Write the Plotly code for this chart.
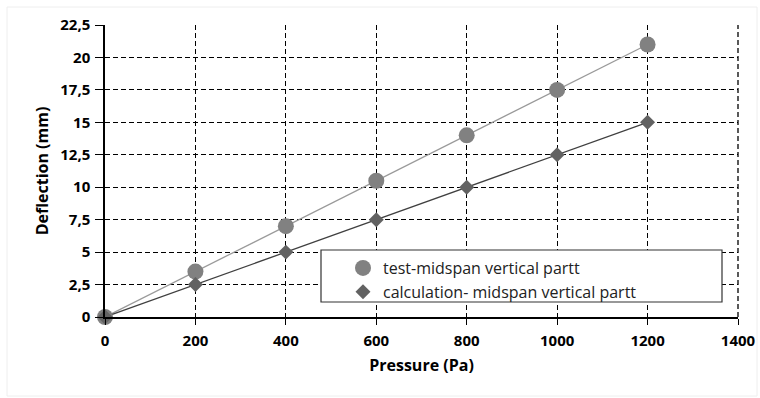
import plotly.graph_objects as go

pressure = [0, 200, 400, 600, 800, 1000, 1200]
test_deflection = [0, 3.5, 7, 10.5, 14, 17.5, 21]
calc_deflection = [0, 2.5, 5, 7.5, 10, 12.5, 15]
y_tick_vals = [0, 2.5, 5, 7.5, 10, 12.5, 15, 17.5, 20, 22.5]
y_tick_text = ["0", "2,5", "5", "7,5", "10", "12,5", "15", "17,5", "20", "22,5"]
x_tick_vals = [0, 200, 400, 600, 800, 1000, 1200, 1400]

FONT = "Open Sans, sans-serif"
fig = go.Figure()
# connecting lines (no legend)
fig.add_trace(go.Scatter(x=pressure, y=test_deflection, mode="lines", showlegend=False,
                         line=dict(color="#9a9a9a", width=1.3), hoverinfo="skip"))
fig.add_trace(go.Scatter(x=pressure, y=calc_deflection, mode="lines", showlegend=False,
                         line=dict(color="#404040", width=1.3), hoverinfo="skip"))
# markers (legend shows markers only)
fig.add_trace(go.Scatter(
    x=pressure, y=test_deflection, mode="markers", cliponaxis=False,
    name="test-midspan vertical partt",
    marker=dict(symbol="circle", size=16, color="#818181"),
))
fig.add_trace(go.Scatter(
    x=pressure, y=calc_deflection, mode="markers", cliponaxis=False,
    name="calculation- midspan vertical partt",
    marker=dict(symbol="diamond", size=11.5, color="#626262"),
))

fig.update_layout(
    width=760, height=398,
    margin=dict(l=105, r=22, t=25, b=81, autoexpand=False),
    paper_bgcolor="white", plot_bgcolor="white",
    font=dict(family=FONT, color="black"),
    showlegend=True,
    legend=dict(
        x=(343 - 105) / 633, y=(317 - 251) / 292, xanchor="left", yanchor="top",
        bgcolor="rgba(0,0,0,0)", borderwidth=0,
        font=dict(size=16, family=FONT, color="#222"),
        itemwidth=30, tracegroupgap=0,
    ),
    xaxis=dict(
        range=[0, 1400], tickvals=x_tick_vals, automargin=False,
        showgrid=True, gridcolor="black", griddash="5px,3px", gridwidth=1.1,
        showline=True, linecolor="black", linewidth=1.5,
        ticks="outside", ticklen=6, tickcolor="black", ticklabelstandoff=3,
        tickfont=dict(size=15, family=FONT, weight="bold"),
        title=dict(text="Pressure (Pa)", font=dict(size=16, weight="bold"), standoff=11),
        zeroline=False,
    ),
    yaxis=dict(
        range=[0, 22.5], tickvals=y_tick_vals, ticktext=y_tick_text, automargin=False,
        showgrid=True, gridcolor="black", griddash="5px,3px", gridwidth=1.1,
        showline=True, linecolor="black", linewidth=1.5,
        ticks="outside", ticklen=8, tickcolor="black", ticklabelstandoff=2,
        tickfont=dict(size=15, family=FONT, weight="bold"),
        title=dict(text="Deflection (mm)", font=dict(size=16, weight="bold"), standoff=8),
        zeroline=False,
    ),
)
# right frame edge (dashed like the grid)
fig.add_shape(type="line", xref="paper", yref="paper", x0=1, x1=1, y0=0, y1=1,
              line=dict(color="black", width=1.3, dash="5px,3px"))
# legend frame
fig.add_shape(type="rect", xref="paper", yref="paper",
              x0=(321 - 105) / 633, x1=(722 - 105) / 633,
              y0=(317 - 302) / 292, y1=(317 - 250) / 292,
              line=dict(color="#333333", width=1.2), fillcolor="white", layer="above")
# faint outer frame
fig.add_shape(type="rect", xref="paper", yref="paper",
              x0=(7 - 105) / 633, x1=(757 - 105) / 633,
              y0=(317 - 396) / 292, y1=(317 - 7) / 292,
              line=dict(color="#eeeeee", width=1))

fig.write_html("out.html")
